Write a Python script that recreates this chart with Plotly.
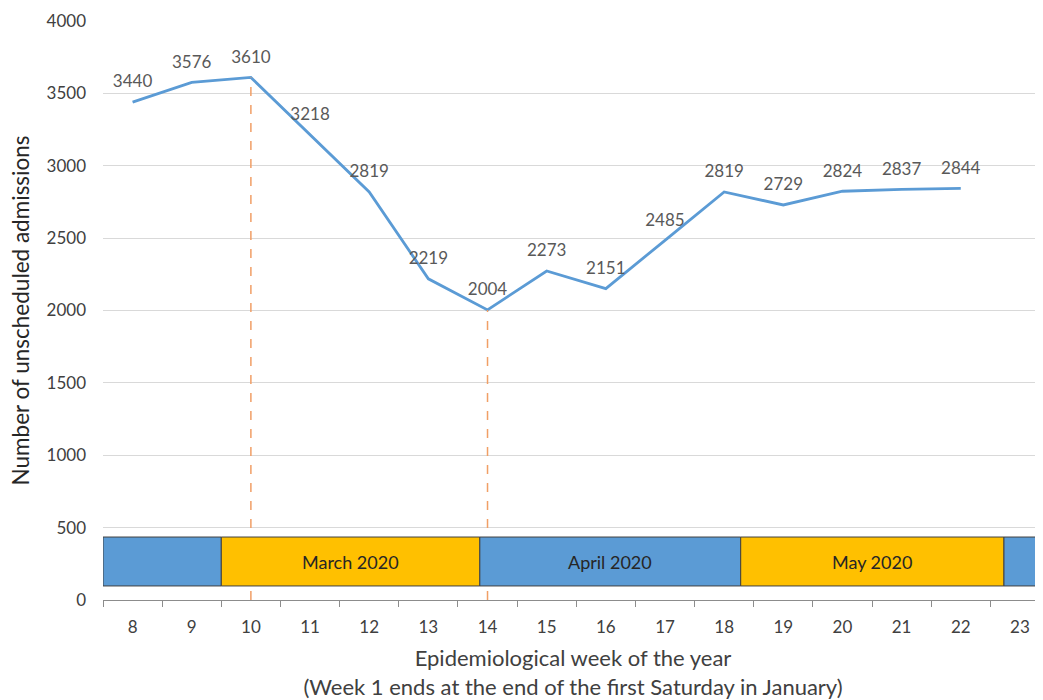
import plotly.graph_objects as go

weeks = [8, 9, 10, 11, 12, 13, 14, 15, 16, 17, 18, 19, 20, 21, 22]
admissions = [3440, 3576, 3610, 3218, 2819, 2219, 2004, 2273, 2151, 2485, 2819, 2729, 2824, 2837, 2844]
tick_weeks = list(range(8, 24))

# month bands (start, end in week units, label, colour)
band_starts = [7.5, 9.5, 13.87, 18.28, 22.73]
band_ends = [9.5, 13.87, 18.28, 22.73, 23.6]
band_labels = ["", "March 2020", "April 2020", "May 2020", ""]
band_colors = ["#5B9BD5", "#FFC000", "#5B9BD5", "#FFC000", "#5B9BD5"]
band_low, band_high = 97, 435

marker_weeks = [10, 14]

FONT = "Lato, 'Liberation Sans', sans-serif"

fig = go.Figure()
fig.add_trace(go.Scatter(
    x=weeks, y=admissions, mode="lines+markers+text",
    text=[str(v) for v in admissions], textposition="top center",
    textfont=dict(family=FONT, size=17, color="#595959"),
    line=dict(color="#5B9BD5", width=2.8),
    marker=dict(size=15, opacity=0, color="#5B9BD5"),
    hoverinfo="x+y", showlegend=False, cliponaxis=False,
))

shapes = []
for w in marker_weeks:
    yv = admissions[weeks.index(w)]
    shapes.append(dict(type="line", xref="x", yref="y", x0=w, x1=w, y0=0, y1=yv,
                       line=dict(color="#F19F66", width=1.5, dash="dash"), layer="above"))
for s, e, c in zip(band_starts, band_ends, band_colors):
    shapes.append(dict(type="rect", xref="x", yref="y", x0=s, x1=e, y0=band_low, y1=band_high,
                       fillcolor=c, line=dict(color="#404040", width=1), layer="above"))

annotations = []
for s, e, lab in zip(band_starts, band_ends, band_labels):
    if lab:
        annotations.append(dict(x=(s + e) / 2, y=(band_low + band_high) / 2, xref="x", yref="y",
                                text=lab, showarrow=False,
                                font=dict(family=FONT, size=18, color="#262626")))
annotations.append(dict(x=0, y=0.5, xref="paper", yref="paper", xshift=-83,
                        text="Number of unscheduled admissions", textangle=-90,
                        showarrow=False, xanchor="center", yanchor="middle",
                        font=dict(family=FONT, size=22.5, color="#262626")))

fig.update_layout(
    width=1043, height=700,
    margin=dict(l=95, r=8, t=13, b=108),
    plot_bgcolor="white", paper_bgcolor="white",
    font=dict(family=FONT, color="#595959"),
    shapes=shapes, annotations=annotations,
    xaxis=dict(
        range=[7.5, 23.39], tickmode="array", tickvals=tick_weeks,
        ticktext=[str(t) for t in tick_weeks], ticks="", showgrid=False,
        showline=True, linecolor="#8c8c8c", linewidth=1.2,
        tickfont=dict(family=FONT, size=17, color="#404040"),
        ticklabelstandoff=11, automargin=False,
        minor=dict(tick0=0.5, dtick=1, ticks="outside", ticklen=6, tickcolor="#8c8c8c", showgrid=False),
        title=dict(text="Epidemiological week of the year<br>(Week 1 ends at the end of the first Saturday in January)",
                   font=dict(family=FONT, size=22, color="#404040"), standoff=15),
        zeroline=False, fixedrange=True,
    ),
    yaxis=dict(
        range=[0, 4000], dtick=500, showgrid=True, gridcolor="#d9d9d9", gridwidth=1,
        zeroline=False, showline=False, ticks="",
        tickfont=dict(family=FONT, size=17, color="#404040"),
        ticklabelstandoff=16, automargin=False,
    ),
)

fig.write_html("out.html")
